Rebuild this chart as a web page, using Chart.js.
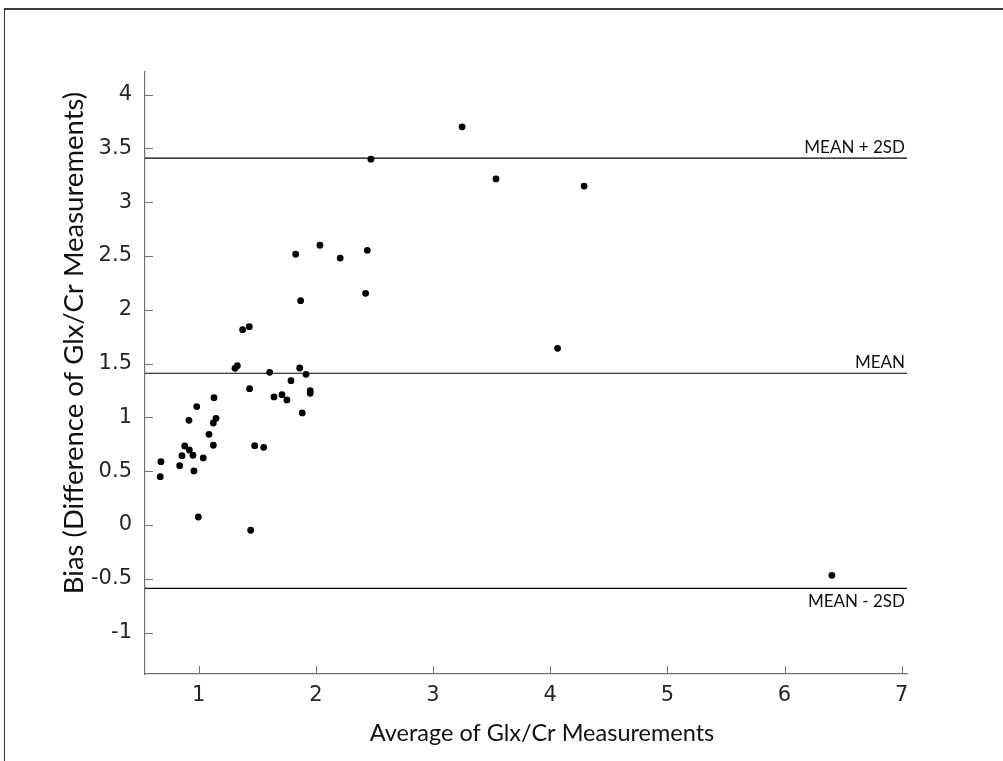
<!DOCTYPE html>
<html>
<head>
<meta charset="utf-8">
<script src="https://cdn.jsdelivr.net/npm/chart.js@4.4.1/dist/chart.umd.min.js"></script>
<style>
  html, body { margin: 0; padding: 0; background: #fff; }
  #wrap { position: relative; width: 1003px; height: 761px; }
  #frame { position: absolute; left: 4px; top: 8px; right: 0; bottom: 0;
           border-left: 1px solid #333; border-top: 2px solid #3a3a3a; pointer-events: none; }
</style>
</head>
<body>
<div id="wrap">
  <canvas id="blandAltman" width="1003" height="761"></canvas>
  <div id="frame"></div>
</div>
<script>
// Average of the two Glx/Cr measurements (x) and their difference (y)
const avgValues = [3.248, 2.47, 3.537, 4.289, 1.828, 2.035, 2.208, 2.439, 1.87, 2.425,
    1.375, 1.432, 4.063, 1.31, 1.33, 1.606, 1.862, 1.916, 1.788, 1.435,
    1.643, 1.711, 1.753, 1.952, 1.952, 1.884, 0.983, 1.131, 0.917, 1.148,
    1.125, 1.088, 1.125, 0.881, 0.92, 0.858, 0.951, 1.039, 0.838, 0.96,
    0.678, 0.672, 1.478, 1.555, 0.997, 1.444, 6.404];
const diffValues = [3.70, 3.40, 3.216, 3.15, 2.516, 2.60, 2.481, 2.553, 2.085, 2.153,
    1.815, 1.843, 1.642, 1.456, 1.48, 1.419, 1.459, 1.40, 1.341, 1.267,
    1.19, 1.211, 1.162, 1.248, 1.224, 1.041, 1.10, 1.183, 0.973, 0.991,
    0.948, 0.843, 0.741, 0.734, 0.697, 0.644, 0.648, 0.623, 0.551, 0.502,
    0.588, 0.449, 0.737, 0.722, 0.074, -0.049, -0.468];

// Reference lines
const limitNames = ['MEAN + 2SD', 'MEAN', 'MEAN - 2SD'];
const limitValues = [3.41, 1.41, -0.59];

const xTicks = [1, 2, 3, 4, 5, 6, 7];
const yTicks = [-1, -0.5, 0, 0.5, 1, 1.5, 2, 2.5, 3, 3.5, 4];
const xRange = [0.542, 7.045];
const yRange = [-1.385, 4.21];

const xTitle = 'Average of Glx/Cr Measurements';
const yTitle = 'Bias (Difference of Glx/Cr Measurements)';

const tickFont = { family: 'DejaVu Sans', size: 21 };

// Inward tick marks, MATLAB style
const innerTicks = {
    id: 'innerTicks',
    afterDatasetsDraw(chart) {
        const { ctx, chartArea, scales } = chart;
        ctx.save();
        ctx.strokeStyle = '#707070';
        ctx.lineWidth = 1;
        ctx.beginPath();
        xTicks.forEach(v => {
            const px = Math.round(scales.x.getPixelForValue(v)) + 0.5;
            ctx.moveTo(px, chartArea.bottom);
            ctx.lineTo(px, chartArea.bottom - 8);
        });
        yTicks.forEach(v => {
            const py = Math.round(scales.y.getPixelForValue(v)) + 0.5;
            ctx.moveTo(chartArea.left, py);
            ctx.lineTo(chartArea.left + 8, py);
        });
        ctx.stroke();
        ctx.restore();
    }
};

// Text labels for the limit lines and the two axis titles
const chartText = {
    id: 'chartText',
    afterDraw(chart) {
        const { ctx, chartArea, scales } = chart;
        ctx.save();
        ctx.fillStyle = '#111';
        ctx.font = '17px Lato';
        ctx.textAlign = 'right';
        limitNames.forEach((name, i) => {
            const py = scales.y.getPixelForValue(limitValues[i]);
            if (i === 2) {
                ctx.textBaseline = 'top';
                ctx.fillText(name, chartArea.right - 2, py + 5);
            } else {
                ctx.textBaseline = 'bottom';
                ctx.fillText(name, chartArea.right - 2, py - 2);
            }
        });

        // axis titles
        ctx.textAlign = 'center';
        ctx.textBaseline = 'middle';
        ctx.font = '23.5px Lato';
        ctx.fillText(xTitle, (chartArea.left + chartArea.right) / 2 + 16, 733);
        ctx.translate(74, (chartArea.top + chartArea.bottom) / 2 - 30);
        ctx.rotate(-Math.PI / 2);
        ctx.font = '27.5px Lato';
        ctx.fillText(yTitle, 0, 0);
        ctx.restore();
    }
};

const limitSets = limitValues.map((v, i) => ({
    type: 'line',
    label: limitNames[i],
    data: [{ x: xRange[0], y: v }, { x: xRange[1], y: v }],
    borderColor: '#000',
    borderWidth: 1.2,
    pointRadius: 0,
    fill: false
}));

const ctx = document.getElementById('blandAltman').getContext('2d');
new Chart(ctx, {
    type: 'scatter',
    data: {
        datasets: [{
            label: 'Glx/Cr',
            data: avgValues.map((x, i) => ({ x: x, y: diffValues[i] })),
            backgroundColor: '#000',
            borderColor: '#000',
            pointRadius: 3.4,
            borderWidth: 0
        }, ...limitSets]
    },
    options: {
        responsive: false,
        animation: false,
        layout: { padding: { top: 72, right: 96, left: 0, bottom: 0 } },
        plugins: {
            legend: { display: false },
            tooltip: { enabled: false }
        },
        scales: {
            x: {
                type: 'linear',
                min: xRange[0],
                max: xRange[1],
                afterBuildTicks: axis => { axis.ticks = xTicks.map(v => ({ value: v })); },
                afterFit: axis => { axis.height = 87; },
                grid: { display: true, drawOnChartArea: false, drawTicks: false },
                border: { color: '#707070', width: 1.2 },
                ticks: { color: '#262626', font: tickFont, padding: 9, maxRotation: 0,
                         callback: v => String(v) },
                title: { display: false }
            },
            y: {
                type: 'linear',
                min: yRange[0],
                max: yRange[1],
                afterBuildTicks: axis => { axis.ticks = yTicks.map(v => ({ value: v })); },
                afterFit: axis => { axis.width = 145; },
                grid: { display: true, drawOnChartArea: false, drawTicks: false },
                border: { color: '#707070', width: 1.2 },
                ticks: { color: '#262626', font: tickFont, padding: 13,
                         callback: v => String(v) },
                title: { display: false }
            }
        }
    },
    plugins: [innerTicks, chartText]
});
</script>
</body>
</html>
